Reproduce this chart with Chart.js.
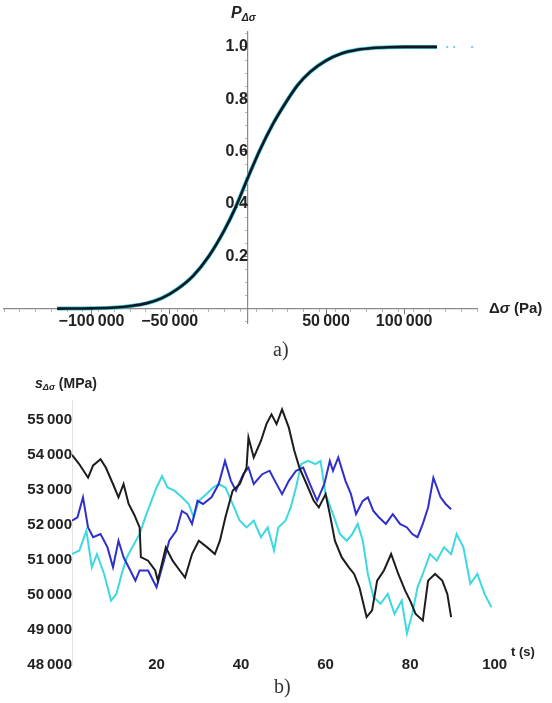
<!DOCTYPE html>
<html>
<head>
<meta charset="utf-8">
<script src="https://cdn.jsdelivr.net/npm/chart.js@4.4.0/dist/chart.umd.min.js"></script>
<style>
  body { margin: 0; background: #fff; width: 552px; height: 703px; position: relative; overflow: hidden;
         font-family: "Liberation Sans", Arial, sans-serif; color: #222; }
  .wrap { position: absolute; left: 0; width: 552px; }
  #topWrap { top: 0; height: 340px; }
  #botWrap { top: 370px; height: 333px; }
  .lbl { position: absolute; white-space: nowrap; font-weight: bold; line-height: 1; }
  .lbl i { font-style: italic; }
  .lbl sub { font-size: 0.65em; font-style: italic; vertical-align: -0.25em; }
  .cap { position: absolute; font-family: "Liberation Serif", "DejaVu Serif", serif; font-size: 20px; line-height: 1; color: #333; }
</style>
</head>
<body>
<div class="wrap" id="topWrap"><canvas id="cdfCanvas" width="552" height="340"></canvas></div>
<div class="wrap" id="botWrap"><canvas id="tsCanvas" width="552" height="333"></canvas></div>

<div class="lbl" style="left:231px;top:5px;font-size:16px;"><i>P</i><sub>&Delta;&sigma;</sub></div>
<div class="lbl" style="left:489px;top:300px;font-size:15px;">&Delta;<i>&sigma;</i> (Pa)</div>
<div class="cap" style="left:273px;top:339px;">a)</div>

<div class="lbl" style="left:35px;top:376px;font-size:14px;"><i>s</i><sub>&Delta;&sigma;</sub> (MPa)</div>
<div class="lbl" style="left:511px;top:645px;font-size:13px;">t (s)</div>
<div class="cap" style="left:274px;top:676px;">b)</div>

<script>
// a) cumulative distribution of the stress difference (Pa)
const cdfX = [-122000, -100000, -85000, -75000, -65000, -55000, -45000, -35000, -25000, -15000,
  -8000, 0, 8000, 16000, 24000, 32000, 40000, 50000, 60000, 70000, 80000, 90000, 100000, 121000];
const cdfP = [0.000, 0.001, 0.004, 0.010, 0.020, 0.040, 0.075, 0.125, 0.200, 0.300,
  0.385, 0.500, 0.610, 0.705, 0.785, 0.855, 0.905, 0.948, 0.975, 0.989, 0.996, 0.999, 1.000, 1.000];
const tailX = [127500, 132000, 143500];
const tailP = [1.0, 1.0, 1.0];
const dsMajor = [-100000, -50000, 0, 50000, 100000];
const pMajor = [0, 0.2, 0.4, 0.6, 0.8, 1.0];

// b) standard deviation vs time, three runs
const tBlack = [0, 1.7, 3.8, 5, 6.75, 8, 9.7, 11, 12.2, 13.4, 14.7, 16, 16.3, 18, 19.7, 20.3, 22.2, 23.8,
  25.5, 26.75, 28.4, 30, 32, 33.8, 35, 36.3, 38, 39.7, 41.3, 41.75, 43, 44.7, 46, 47.2, 48.4, 49.7,
  51.3, 52.6, 53.8, 55.5, 57.2, 58.4, 60, 61, 62.2, 63.8, 65.5, 66.75, 68, 69.7, 71, 72.2, 73.8,
  75.5, 77.2, 78.8, 80, 81.3, 83, 84.25, 85.9, 87.6, 88.8, 89.7];
const sBlack = [54000, 53740, 53350, 53700, 53880, 53640, 53170, 52790, 53170, 52600, 52300, 51930, 51080,
  50980, 50700, 50410, 51360, 50980, 50700, 50500, 51170, 51550, 51360, 51170, 51550, 52220, 52980,
  53170, 53640, 54500, 53930, 54400, 54880, 55160, 54880, 55300, 54780, 54120, 53640, 53170, 52690,
  52500, 52880, 52310, 51550, 51080, 50790, 50600, 50220, 49370, 49560, 50410, 50700, 51170, 50600,
  50130, 49840, 49460, 49270, 50410, 50600, 50410, 50030, 49370];

const tBlue = [0, 1.3, 2.6, 3.8, 5, 6.75, 8.4, 9.7, 11, 12.2, 13.8, 15, 16, 18, 20, 21.75, 23, 24.7, 26,
  27.2, 28.4, 29.7, 31, 33, 34.7, 36.2, 37.6, 38.8, 40.5, 41.75, 43, 45, 46.75, 48, 49.7, 51.3, 53,
  54.7, 56.3, 58, 59.7, 61, 61.75, 63, 64.7, 66, 67.2, 68.8, 70, 71.3, 72.6, 74.25, 75.9, 77.6,
  79.25, 80.5, 81.75, 83, 84.25, 85.5, 87.2, 88.4, 89.7];
const sBlue = [52120, 52220, 52790, 51930, 51650, 51740, 51360, 50790, 51550, 51080, 50700, 50410, 50700,
  50700, 50220, 50980, 51550, 51840, 52400, 52310, 52030, 52690, 52600, 52790, 53170, 53830, 53260,
  52980, 53450, 53640, 53170, 53450, 53550, 53260, 52880, 53260, 53550, 53640, 53170, 52690, 53170,
  53830, 53550, 53930, 53260, 52880, 52310, 52690, 52790, 52400, 52220, 52030, 52310, 52030, 51930,
  51740, 51650, 52030, 52500, 53350, 52790, 52600, 52450];

const tCyan = [0, 1.75, 3.4, 4.7, 5.9, 7.6, 9.25, 10.5, 11.75, 13, 14.25, 16, 17.6, 18.8, 20, 21.3, 22.6,
  24.25, 26, 27.6, 28.8, 30, 31.75, 33.4, 34.7, 36.3, 38, 39.7, 41.3, 43, 44.7, 46.3, 47.8, 48.8,
  50.5, 51.75, 53, 54.25, 55.9, 57.6, 58.8, 60, 61.75, 63.4, 65, 66.3, 67.6, 68.8, 70, 71.3, 73,
  74.7, 76.3, 78, 79.25, 80.5, 81.75, 83, 84.7, 86.3, 88, 89.7, 91, 92.6, 94.25, 95.9, 97.6, 99.25];
const sCyan = [51170, 51270, 51840, 50790, 51170, 50600, 49840, 50030, 50600, 51080, 51360, 51740, 52310,
  52690, 53070, 53400, 53070, 52980, 52790, 52600, 52220, 52690, 52880, 53070, 53170, 53070, 52600,
  52120, 51930, 52120, 51650, 51930, 51270, 51930, 52120, 52500, 53070, 53740, 53830, 53740, 53830,
  52880, 52310, 51740, 51550, 51740, 52030, 51550, 50600, 49940, 49750, 50030, 49460, 49840, 48900,
  49460, 50220, 50600, 51170, 50980, 51360, 51170, 51740, 51360, 50320, 50600, 50030, 49650];

const tMajor = [20, 40, 60, 80, 100];
const sTicks = [48000, 49000, 50000, 51000, 52000, 53000, 54000, 55000];

const pairs = (xs, ys) => xs.map((x, i) => ({ x, y: ys[i] }));
const digits = v => {
  const s = Math.abs(v).toFixed(0);
  const g = s.length > 4 ? s.slice(0, s.length - 3) + '\u2009' + s.slice(-3) : s;
  return (v < 0 ? '\u2212' : '') + g;
};
const fixTicks = arr => s => { s.ticks = arr.map(value => ({ value })); };

const tickFont = { family: '"Liberation Sans", Arial, sans-serif', size: 16, weight: 'bold' };

new Chart(document.getElementById('cdfCanvas').getContext('2d'), {
  type: 'line',
  data: {
    datasets: [
      { data: pairs(cdfX, cdfP), borderColor: '#101828', borderWidth: 2.6, pointRadius: 0,
        cubicInterpolationMode: 'monotone' },
      { data: pairs(cdfX, cdfP), borderColor: '#3fc6c8', borderWidth: 4, pointRadius: 0,
        cubicInterpolationMode: 'monotone' },
      { data: pairs(tailX, tailP), showLine: false, pointRadius: 1.2, borderWidth: 0,
        pointBackgroundColor: '#7fd0e8' }
    ]
  },
  options: {
    responsive: false,
    animation: false,
    events: [],
    layout: { padding: { left: 0, right: 75, top: 32, bottom: 17 } },
    plugins: { legend: { display: false }, tooltip: { enabled: false } },
    scales: {
      // minor ticks only
      xm: {
        type: 'linear', axis: 'x', min: -156000, max: 146600, position: { y: 0 },
        border: { display: false },
        grid: { drawOnChartArea: false, tickLength: 3, tickColor: '#b8b8b8' },
        ticks: { stepSize: 10000, includeBounds: false, display: false }
      },
      ym: {
        type: 'linear', axis: 'y', min: -0.055, max: 1.057, position: { x: 0 },
        border: { display: false },
        grid: { drawOnChartArea: false, tickLength: 3, tickColor: '#b8b8b8' },
        ticks: { stepSize: 0.05, includeBounds: false, display: false }
      },
      x: {
        type: 'linear', min: -156000, max: 146600, position: { y: 0 },
        afterBuildTicks: fixTicks(dsMajor),
        border: { color: '#8a8a8a', width: 1.2 },
        grid: { drawOnChartArea: false, tickLength: 5, tickColor: '#777' },
        ticks: { autoSkip: false, maxRotation: 0, padding: -2, color: '#222', font: tickFont,
          callback: v => v === 0 ? '' : digits(v) }
      },
      y: {
        type: 'linear', min: -0.055, max: 1.057, position: { x: 0 },
        afterBuildTicks: fixTicks(pMajor),
        border: { color: '#8a8a8a', width: 1.2 },
        grid: { drawOnChartArea: false, tickLength: 5, tickColor: '#777' },
        ticks: { autoSkip: false, padding: 0, color: '#222', font: tickFont,
          callback: v => v === 0 ? '' : v.toFixed(1) }
      }
    }
  }
});

new Chart(document.getElementById('tsCanvas').getContext('2d'), {
  type: 'line',
  data: {
    datasets: [
      { data: pairs(tBlack, sBlack), borderColor: '#1c1c1c', borderWidth: 2, pointRadius: 0 },
      { data: pairs(tBlue, sBlue), borderColor: '#2f2fcc', borderWidth: 2, pointRadius: 0 },
      { data: pairs(tCyan, sCyan), borderColor: '#3ed8df', borderWidth: 2, pointRadius: 0 }
    ]
  },
  options: {
    responsive: false,
    animation: false,
    events: [],
    layout: { padding: { left: 72, right: 51, top: 30, bottom: 38 } },
    plugins: { legend: { display: false }, tooltip: { enabled: false } },
    scales: {
      x: {
        type: 'linear', min: 0, max: 101.5, position: { y: 48000 },
        afterBuildTicks: fixTicks(tMajor),
        border: { display: false },
        grid: { display: false, drawTicks: false },
        ticks: { autoSkip: false, maxRotation: 0, padding: -9, color: '#222',
          font: { ...tickFont, size: 15 }, callback: v => String(v) }
      },
      y: {
        type: 'linear', min: 48000, max: 55570, position: { x: 0 },
        afterBuildTicks: fixTicks(sTicks),
        border: { color: '#e2e2e2', width: 1, dash: [1, 3] },
        grid: { drawOnChartArea: false, tickLength: 3, tickColor: '#c8c8c8' },
        ticks: { autoSkip: false, padding: 3, color: '#222', font: { ...tickFont, size: 15 },
          callback: v => digits(v) }
      }
    }
  }
});
</script>
</body>
</html>
